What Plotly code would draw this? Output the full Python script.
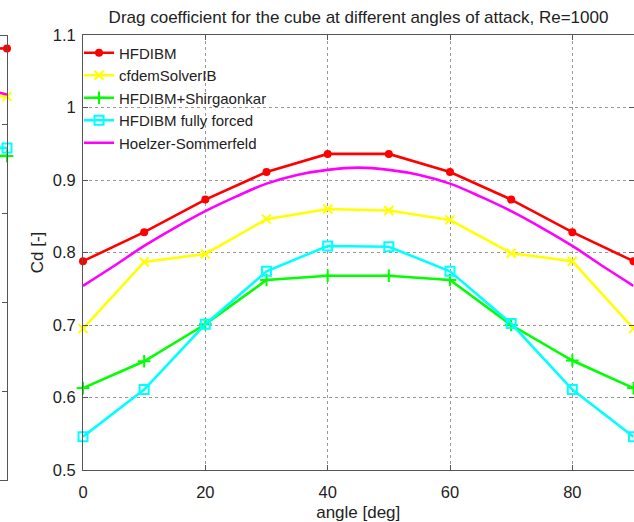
import plotly.graph_objects as go

# ---------------- data ----------------
angles = [0, 10, 20, 30, 40, 50, 60, 70, 80, 90]
cd_hfdibm = [0.788, 0.828, 0.873, 0.911, 0.936, 0.936, 0.911, 0.873, 0.828, 0.788]
cd_cfdem = [0.695, 0.787, 0.798, 0.846, 0.860, 0.858, 0.845, 0.799, 0.788, 0.695]
cd_shirg = [0.613, 0.650, 0.701, 0.762, 0.768, 0.768, 0.762, 0.700, 0.651, 0.613]
cd_forced = [0.546, 0.611, 0.701, 0.774, 0.809, 0.808, 0.774, 0.702, 0.611, 0.546]

hs_angles = [0, 5, 10, 15, 20, 25, 30, 35, 40, 45, 50, 55, 60, 65, 70, 75, 80, 85, 90]
cd_hs = [0.754, 0.781, 0.809, 0.834, 0.857, 0.877, 0.895, 0.907, 0.914, 0.917,
         0.914, 0.907, 0.895, 0.877, 0.857, 0.834, 0.809, 0.781, 0.754]

series_names = ["HFDIBM", "cfdemSolverIB", "HFDIBM+Shirgaonkar",
                "HFDIBM fully forced", "Hoelzer-Sommerfeld"]

# partially visible neighbouring panel (only its right edge is in view)
left_x = [-1, 1]
left_hfdibm = [2.43, 2.43]
left_cfdem = [2.16, 2.16]
left_shirg = [1.825, 1.825]
left_forced = [1.87, 1.87]
left_hs = [2.19, 2.17]

x_ticks = [0, 20, 40, 60, 80]

# ---------------- style ----------------
W, H = 634, 522
FONT = "Liberation Sans, Arial, Helvetica, sans-serif"
RED, YEL, GRN, CYN, MAG = "#ff0000", "#ffff00", "#00ff00", "#00ffff", "#ff00ff"
AXC = "#555555"
GRIDC = "#999999"
LW = 2.6

fig = go.Figure()

styles = [
    (cd_hfdibm, RED, dict(symbol="circle", size=8, color=RED)),
    (cd_cfdem, YEL, dict(symbol="x-thin", size=9, color=YEL, line=dict(color=YEL, width=2))),
    (cd_shirg, GRN, dict(symbol="cross-thin", size=9, color=GRN, line=dict(color=GRN, width=2))),
    (cd_forced, CYN, dict(symbol="square-open", size=9, color=CYN, line=dict(color=CYN, width=2))),
]
for i, (vals, col, mk) in enumerate(styles):
    fig.add_trace(go.Scatter(
        x=angles, y=vals, name=series_names[i], mode="lines+markers",
        line=dict(color=col, width=LW), marker=mk, cliponaxis=False,
        legendgroup=str(i), xaxis="x", yaxis="y"))
fig.add_trace(go.Scatter(
    x=hs_angles, y=cd_hs, name=series_names[4], mode="lines",
    line=dict(color=MAG, width=LW, shape="spline"), legendgroup="4",
    xaxis="x", yaxis="y"))

left_styles = [
    (left_hfdibm, RED, styles[0][2]),
    (left_cfdem, YEL, styles[1][2]),
    (left_shirg, GRN, styles[2][2]),
    (left_forced, CYN, styles[3][2]),
]
for vals, col, mk in left_styles:
    fig.add_trace(go.Scatter(
        x=left_x, y=vals, mode="lines+markers", showlegend=False,
        line=dict(color=col, width=LW), marker=mk, cliponaxis=False,
        xaxis="x2", yaxis="y2", hoverinfo="skip"))
fig.add_trace(go.Scatter(
    x=left_x, y=left_hs, mode="lines", showlegend=False,
    line=dict(color=MAG, width=LW), xaxis="x2", yaxis="y2", hoverinfo="skip"))


def px_x(p):
    return p / W


def px_y(p):
    return 1 - p / H


fig.update_layout(
    width=W, height=H, autosize=False,
    margin=dict(l=0, r=0, t=0, b=0, pad=0, autoexpand=False),
    paper_bgcolor="white", plot_bgcolor="white",
    font=dict(family=FONT, size=16.5, color="#222222"),
    title=dict(text="Drag coefficient for the cube at different angles of attack, Re=1000",
               x=px_x(358.5), xanchor="center", y=px_y(17), yanchor="middle",
               font=dict(size=17, color="#222222"), automargin=False),
    xaxis=dict(domain=[px_x(83), px_x(633.5)], range=[0, 90], anchor="y",
               tickvals=x_ticks, ticks="inside", ticklen=5, tickcolor=AXC,
               showline=True, linecolor=AXC, linewidth=1, mirror="ticks",
               showgrid=True, gridcolor=GRIDC, griddash="dot", gridwidth=1,
               zeroline=False, tickfont=dict(size=16.5), ticklabelstandoff=7,
               automargin=False,
               title=dict(text="angle [deg]", font=dict(size=17), standoff=13)),
    yaxis=dict(domain=[px_y(470), px_y(35)], range=[0.5, 1.1], anchor="x",
               dtick=0.1, tick0=0.5, ticks="inside", ticklen=5, tickcolor=AXC,
               showline=True, linecolor=AXC, linewidth=1, mirror="ticks",
               showgrid=True, gridcolor=GRIDC, griddash="dot", gridwidth=1,
               zeroline=False, tickfont=dict(size=16.5), ticklabelstandoff=3,
               automargin=False,
               title=dict(text="Cd [-]", font=dict(size=17), standoff=4)),
    xaxis2=dict(domain=[0, px_x(7)], range=[0, 1], anchor="y2",
                showline=True, linecolor=AXC, linewidth=1, mirror=True,
                showgrid=False, zeroline=False, showticklabels=False, ticks="",
                automargin=False),
    yaxis2=dict(domain=[px_y(480), px_y(36)], range=[0, 2.5], anchor="x2",
                side="right", dtick=0.5, ticks="inside", ticklen=5, tickcolor=AXC,
                showline=True, linecolor=AXC, linewidth=1, showgrid=False,
                zeroline=False, showticklabels=False, automargin=False),
    legend=dict(x=px_x(79), xanchor="left", y=px_y(36.5), yanchor="top",
                bgcolor="rgba(0,0,0,0)", borderwidth=0, tracegroupgap=0,
                font=dict(size=15, color="#222222"), itemwidth=30),
    showlegend=True,
)

fig.write_html("out.html",
               config={"displayModeBar": False},
               post_script="document.body.style.margin='0';document.body.style.overflow='hidden';")
